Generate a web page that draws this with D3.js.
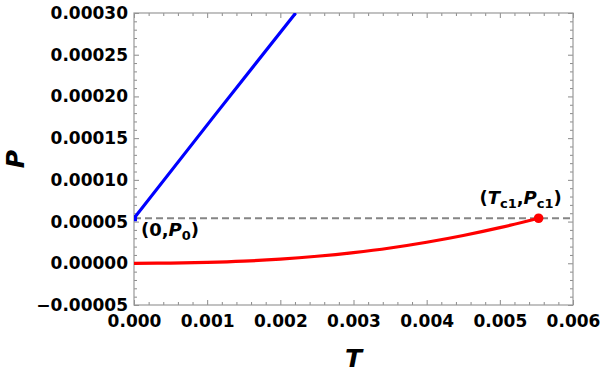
<!DOCTYPE html>
<html>
<head>
<meta charset="utf-8">
<script src="https://cdn.jsdelivr.net/npm/d3@7"></script>
<style>
  body { margin: 0; background: #fff; }
  svg text { font-family: "DejaVu Sans", sans-serif; font-weight: bold; }
  .axis text { font-size: 17px; fill: #000; }
  .axis line { stroke: #8a8a8a; }
</style>
</head>
<body>
<svg width="600" height="374"></svg>
<script>
// values
let xTicks = [0, 0.001, 0.002, 0.003, 0.004, 0.005, 0.006];
let yTicks = [-0.00005, 0, 0.00005, 0.0001, 0.00015, 0.0002, 0.00025, 0.0003];

let P0 = 0.000054;
let Tc1 = 0.00553, Pc1 = 0.000054;

let blueT = [0, 0.0011, 0.00221];
let blueP = [0.000054, 0.000177, 0.0003];

let redT = [0, 0.0005, 0.001, 0.0015, 0.002, 0.0025, 0.003, 0.0035, 0.004, 0.0045, 0.005, 0.00553];
let redP = [0, 0.0000002, 0.000001, 0.0000025, 0.000005, 0.0000084, 0.0000128, 0.0000183, 0.0000252, 0.0000333, 0.0000427, 0.000054];

let svg = d3.select("svg"),
    margin = { top: 13, right: 27, bottom: 69, left: 134 },
    width = 600 - margin.left - margin.right,
    height = 374 - margin.top - margin.bottom;

let x = d3.scaleLinear().domain([0, 0.006]).range([0, width]),
    y = d3.scaleLinear().domain([-0.00005, 0.0003]).range([height, 0]);

let xMinor = d3.range(0, 31).map(i => i * 0.0002).filter(v => !xTicks.some(t => Math.abs(t - v) < 1e-9));
let yMinor = d3.range(0, 36).map(i => -0.00005 + i * 0.00001).filter(v => !yTicks.some(t => Math.abs(t - v) < 1e-10));

svg.append("defs").append("clipPath")
    .attr("id", "clip")
    .append("rect")
    .attr("width", width)
    .attr("height", height);

let g = svg.append("g")
    .attr("transform", "translate(" + margin.left + "," + margin.top + ")");

// axes with ticks pointing inward
function tickAxis(gen, cls, tr) {
    let a = g.append("g").attr("class", "axis " + cls);
    if (tr) a.attr("transform", tr);
    a.call(gen);
    a.select(".domain").remove();
    return a;
}

tickAxis(d3.axisLeft(y).tickValues(yTicks).tickSize(-5).tickPadding(6).tickFormat(d3.format(".5f")), "y");
tickAxis(d3.axisLeft(y).tickValues(yMinor).tickSize(-3).tickFormat(""), "y-minor");
tickAxis(d3.axisRight(y).tickValues(yTicks).tickSize(-5).tickFormat(""), "y2", "translate(" + width + ",0)");
tickAxis(d3.axisRight(y).tickValues(yMinor).tickSize(-3).tickFormat(""), "y2-minor", "translate(" + width + ",0)");

tickAxis(d3.axisBottom(x).tickValues(xTicks).tickSize(-5).tickPadding(10).tickFormat(d3.format(".3f")), "x", "translate(0," + height + ")");
tickAxis(d3.axisBottom(x).tickValues(xMinor).tickSize(-3).tickFormat(""), "x-minor", "translate(0," + height + ")");
tickAxis(d3.axisTop(x).tickValues(xTicks).tickSize(-5).tickFormat(""), "x2");
tickAxis(d3.axisTop(x).tickValues(xMinor).tickSize(-3).tickFormat(""), "x2-minor");

g.append("rect")
    .attr("width", width)
    .attr("height", height)
    .attr("fill", "none")
    .attr("stroke", "#999")
    .attr("stroke-width", 1.2);

// dashed reference line
g.append("line")
    .attr("x1", 0).attr("x2", width)
    .attr("y1", y(P0)).attr("y2", y(P0))
    .attr("stroke", "#858585")
    .attr("stroke-width", 2.2)
    .attr("stroke-dasharray", "7,4");

let line = d3.line()
    .x(d => x(d[0]))
    .y(d => y(d[1]));

g.append("path")
    .datum(d3.zip(blueT, blueP))
    .attr("clip-path", "url(#clip)")
    .attr("fill", "none")
    .attr("stroke", "#0000ff")
    .attr("stroke-width", 3.2)
    .attr("d", line);

g.append("path")
    .datum(d3.zip(redT, redP))
    .attr("fill", "none")
    .attr("stroke", "#ff0000")
    .attr("stroke-width", 3.2)
    .attr("d", line.curve(d3.curveMonotoneX));

g.append("circle")
    .attr("cx", x(Tc1))
    .attr("cy", y(Pc1))
    .attr("r", 4.8)
    .attr("fill", "#ff0000");

g.append("rect")
    .attr("x", x(0))
    .attr("y", y(P0) - 3)
    .attr("width", 3)
    .attr("height", 6)
    .attr("fill", "#0000ff");

// point labels
let lab1 = g.append("text")
    .attr("x", x(0) + 7)
    .attr("y", y(P0) + 18)
    .attr("font-size", 18);
lab1.append("tspan").text("(0,");
lab1.append("tspan").attr("font-style", "italic").text("P");
lab1.append("tspan").attr("font-size", 13).attr("dy", 4).text("0");
lab1.append("tspan").attr("dy", -4).text(")");

let lab2 = g.append("text")
    .attr("x", x(Tc1) - 18)
    .attr("y", y(Pc1) - 14)
    .attr("text-anchor", "middle")
    .attr("font-size", 18);
lab2.append("tspan").text("(");
lab2.append("tspan").attr("font-style", "italic").text("T");
lab2.append("tspan").attr("font-size", 13).attr("dy", 4).text("c1");
lab2.append("tspan").attr("dy", -4).text(",");
lab2.append("tspan").attr("font-style", "italic").text("P");
lab2.append("tspan").attr("font-size", 13).attr("dy", 4).text("c1");
lab2.append("tspan").attr("dy", -4).text(")");

// axis titles
svg.append("text")
    .attr("text-anchor", "middle")
    .attr("font-size", 25)
    .attr("font-style", "italic")
    .attr("transform", "translate(24," + (margin.top + height / 2) + ")rotate(-90)")
    .text("P");

svg.append("text")
    .attr("text-anchor", "middle")
    .attr("font-size", 25)
    .attr("font-style", "italic")
    .attr("x", margin.left + width / 2)
    .attr("y", 367)
    .text("T");
</script>
</body>
</html>
